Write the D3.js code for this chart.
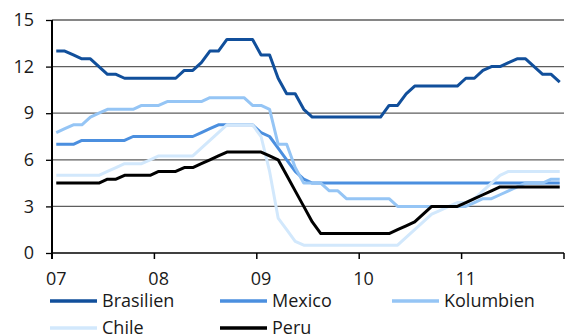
<!DOCTYPE html>
<html>
<head>
<meta charset="utf-8">
<script src="https://cdn.jsdelivr.net/npm/d3@7"></script>
<style>
  html, body { margin: 0; padding: 0; background: #fff; }
  svg { display: block; font-family: "Open Sans", "Noto Sans", sans-serif; }
</style>
</head>
<body>
<svg id="chart" width="565" height="336"></svg>
<script>
// Leitzinsen Lateinamerika, Monatswerte Jan 2007 - Dez 2011 (in %)
const years = ["07", "08", "09", "10", "11"];
const months = years.flatMap(yr => d3.range(1, 13).map(m => `20${yr}-${String(m).padStart(2, "0")}`));
const yTicks = [0, 3, 6, 9, 12, 15];

const brasilien = [
  13.0, 13.0, 12.75, 12.5, 12.5, 12.0, 11.5, 11.5, 11.25, 11.25, 11.25, 11.25,
  11.25, 11.25, 11.25, 11.75, 11.75, 12.25, 13.0, 13.0, 13.75, 13.75, 13.75, 13.75,
  12.75, 12.75, 11.25, 10.25, 10.25, 9.25, 8.75, 8.75, 8.75, 8.75, 8.75, 8.75,
  8.75, 8.75, 8.75, 9.5, 9.5, 10.25, 10.75, 10.75, 10.75, 10.75, 10.75, 10.75,
  11.25, 11.25, 11.75, 12.0, 12.0, 12.25, 12.5, 12.5, 12.0, 11.5, 11.5, 11.0
];
const mexico = [
  7.0, 7.0, 7.0, 7.25, 7.25, 7.25, 7.25, 7.25, 7.25, 7.5, 7.5, 7.5,
  7.5, 7.5, 7.5, 7.5, 7.5, 7.75, 8.0, 8.25, 8.25, 8.25, 8.25, 8.25,
  7.75, 7.5, 6.75, 6.0, 5.25, 4.75, 4.5, 4.5, 4.5, 4.5, 4.5, 4.5,
  4.5, 4.5, 4.5, 4.5, 4.5, 4.5, 4.5, 4.5, 4.5, 4.5, 4.5, 4.5,
  4.5, 4.5, 4.5, 4.5, 4.5, 4.5, 4.5, 4.5, 4.5, 4.5, 4.5, 4.5
];
const kolumbien = [
  7.75, 8.0, 8.25, 8.25, 8.75, 9.0, 9.25, 9.25, 9.25, 9.25, 9.5, 9.5,
  9.5, 9.75, 9.75, 9.75, 9.75, 9.75, 10.0, 10.0, 10.0, 10.0, 10.0, 9.5,
  9.5, 9.25, 7.0, 7.0, 5.5, 4.5, 4.5, 4.5, 4.0, 4.0, 3.5, 3.5,
  3.5, 3.5, 3.5, 3.5, 3.0, 3.0, 3.0, 3.0, 3.0, 3.0, 3.0, 3.0,
  3.0, 3.25, 3.5, 3.5, 3.75, 4.0, 4.25, 4.5, 4.5, 4.5, 4.75, 4.75
];
const chile = [
  5.0, 5.0, 5.0, 5.0, 5.0, 5.0, 5.25, 5.5, 5.75, 5.75, 5.75, 6.0,
  6.25, 6.25, 6.25, 6.25, 6.25, 6.75, 7.25, 7.75, 8.25, 8.25, 8.25, 8.25,
  7.5, 5.25, 2.25, 1.5, 0.75, 0.5, 0.5, 0.5, 0.5, 0.5, 0.5, 0.5,
  0.5, 0.5, 0.5, 0.5, 0.5, 1.0, 1.5, 2.0, 2.5, 2.75, 3.0, 3.25,
  3.25, 3.5, 4.0, 4.5, 5.0, 5.25, 5.25, 5.25, 5.25, 5.25, 5.25, 5.25
];
const peru = [
  4.5, 4.5, 4.5, 4.5, 4.5, 4.5, 4.75, 4.75, 5.0, 5.0, 5.0, 5.0,
  5.25, 5.25, 5.25, 5.5, 5.5, 5.75, 6.0, 6.25, 6.5, 6.5, 6.5, 6.5,
  6.5, 6.25, 6.0, 5.0, 4.0, 3.0, 2.0, 1.25, 1.25, 1.25, 1.25, 1.25,
  1.25, 1.25, 1.25, 1.25, 1.5, 1.75, 2.0, 2.5, 3.0, 3.0, 3.0, 3.0,
  3.25, 3.5, 3.75, 4.0, 4.25, 4.25, 4.25, 4.25, 4.25, 4.25, 4.25, 4.25
];

const seriesNames = ["Brasilien", "Mexico", "Kolumbien", "Chile", "Peru"];
const seriesValues = [brasilien, mexico, kolumbien, chile, peru];
const seriesColors = ["#114f9b", "#4b8fdf", "#95c5f5", "#d2e8fc", "#000000"];

const svg = d3.select("#chart");
const plotLeft = 52, plotRight = 564, plotTop = 20, plotBottom = 253;

const x = d3.scaleBand().domain(months).range([plotLeft, plotRight]).paddingInner(0).paddingOuter(0);
const y = d3.scaleLinear().domain([0, 15]).range([plotBottom, plotTop]);
const cx = m => x(m) + x.bandwidth() / 2;

// horizontal gridlines
svg.append("g")
  .selectAll("line")
  .data(yTicks.filter(t => t > 0))
  .join("line")
  .attr("x1", plotLeft).attr("x2", plotRight)
  .attr("y1", d => y(d)).attr("y2", d => y(d))
  .attr("stroke", "#5e5e5e").attr("stroke-width", 1.3);

// y axis
const yAxis = svg.append("g")
  .attr("transform", `translate(${plotLeft},0)`)
  .call(d3.axisLeft(y).tickValues(yTicks).tickSize(6).tickPadding(12).tickFormat(d3.format("d")));
yAxis.select(".domain").attr("stroke", "#000").attr("stroke-width", 2).attr("d", `M0,${plotTop}V${plotBottom + 6}`);
yAxis.selectAll(".tick line").attr("stroke", "#000").attr("stroke-width", 1.3);
yAxis.selectAll("text").attr("font-size", 18).attr("fill", "#1a1a1a")
  .attr("font-family", "'Open Sans', sans-serif");

// x axis: ticks at year boundaries, labels under the first month of each year
const yearStarts = years.map(yr => `20${yr}-01`);
const xAxisG = svg.append("g").attr("transform", `translate(0,${plotBottom})`);
xAxisG.append("line")
  .attr("x1", plotLeft).attr("x2", plotRight).attr("y1", 0).attr("y2", 0)
  .attr("stroke", "#000").attr("stroke-width", 1.5);
xAxisG.selectAll("line.tick")
  .data(yearStarts.map(m => x(m)).concat([plotRight]))
  .join("line").attr("class", "tick")
  .attr("x1", d => d).attr("x2", d => d).attr("y1", 0).attr("y2", 6)
  .attr("stroke", "#000").attr("stroke-width", 1.5);
xAxisG.selectAll("text")
  .data(years)
  .join("text")
  .attr("x", yr => cx(`20${yr}-01`))
  .attr("y", 32)
  .attr("text-anchor", "middle")
  .attr("font-size", 18).attr("fill", "#1a1a1a")
  .text(d => d);

// series lines
const line = d3.line().x((d, i) => cx(months[i])).y(d => y(d)).curve(d3.curveLinear);
svg.append("g")
  .selectAll("path")
  .data(seriesValues)
  .join("path")
  .attr("d", d => line(d))
  .attr("fill", "none")
  .attr("stroke", (d, i) => seriesColors[i])
  .attr("stroke-width", 3)
  .attr("stroke-linejoin", "round");

// legend, three columns
const legendCols = [50, 220, 392];
const legendRows = [301, 328];
const legend = svg.append("g")
  .selectAll("g")
  .data(seriesNames)
  .join("g")
  .attr("transform", (d, i) => `translate(${legendCols[i % 3]},${legendRows[Math.floor(i / 3)]})`);
legend.append("line")
  .attr("x1", 0).attr("x2", 47).attr("y1", 0).attr("y2", 0)
  .attr("stroke", (d, i) => seriesColors[i]).attr("stroke-width", 3.5);
legend.append("text")
  .attr("x", 52).attr("y", 0).attr("dy", "0.35em")
  .attr("font-size", 18).attr("fill", "#1a1a1a")
  .text(d => d);
</script>
</body>
</html>
